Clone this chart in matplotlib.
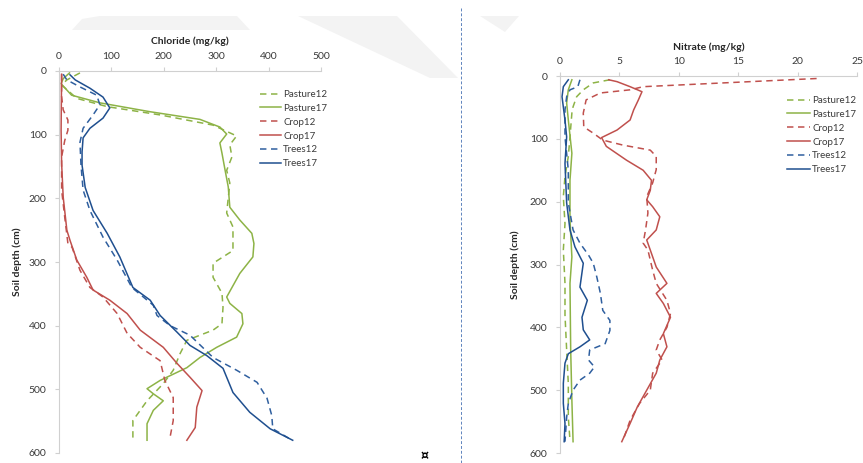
import numpy as np
import matplotlib
matplotlib.use('Agg')
import matplotlib.pyplot as plt
from matplotlib.patches import Polygon

plt.rcParams['font.family'] = ['Lato', 'DejaVu Sans']

# ---- chloride (mg/kg) profiles: value, depth (cm)
cl_pasture12 = [40, 15, 5, 34, 92, 193, 294, 339, 326, 330, 320, 326, 320, 332, 332, 332, 294, 294,
                311, 313, 311, 294, 244, 231, 218, 199, 168, 141, 141, 141]
cl_pasture12_d = [3, 14, 22, 43, 56, 69, 85, 102, 116, 135, 156, 176, 223, 245, 266, 282, 302, 324,
                  349, 371, 397, 407, 423, 444, 470, 491, 518, 549, 569, 577]
cl_pasture17 = [20, 8, 4, 24, 78, 174, 269, 307, 320, 307, 311, 317, 323, 326, 345, 368, 372, 370,
                345, 320, 326, 349, 351, 339, 301, 269, 244, 193, 168, 180, 199, 180, 168, 168]
cl_pasture17_d = [3, 12, 20, 38, 50, 64, 76, 88, 99, 113, 129, 156, 182, 214, 234, 255, 271, 292,
                  318, 355, 365, 381, 397, 418, 434, 450, 466, 486, 499, 507, 518, 533, 554, 580]
cl_crop12 = [5, 5, 8, 17, 17, 11, 5, 5, 11, 17, 25, 40, 59, 84, 111, 130, 155, 193, 202, 218, 218, 212]
cl_crop12_d = [5, 40, 61, 77, 93, 109, 135, 187, 230, 271, 277, 313, 340, 355, 381, 412, 434, 455,
               486, 513, 549, 575]
cl_crop17 = [5, 4, 5, 8, 15, 21, 34, 53, 65, 97, 130, 155, 199, 225, 250, 273, 263, 260, 244]
cl_crop17_d = [5, 93, 145, 198, 250, 266, 297, 324, 344, 360, 381, 407, 434, 459, 481, 502, 528, 560, 580]
cl_trees12 = [8, 15, 40, 72, 78, 65, 46, 40, 42, 46, 59, 84, 111, 139, 180, 187, 212, 250, 294, 339,
              378, 397, 406, 408, 441]
cl_trees12_d = [5, 14, 25, 38, 53, 69, 90, 112, 148, 187, 219, 261, 297, 340, 368, 384, 400, 415, 450,
                470, 489, 514, 541, 562, 578]
cl_trees17 = [21, 31, 59, 84, 97, 84, 59, 46, 44, 44, 50, 65, 92, 116, 141, 174, 193, 225, 250, 282,
              313, 332, 364, 403, 446]
cl_trees17_d = [6, 14, 27, 41, 58, 74, 90, 105, 127, 148, 183, 219, 255, 292, 340, 360, 384, 410, 431,
                447, 467, 505, 536, 562, 580]

# ---- nitrate (mg/kg) profiles
no_pasture12 = [4.2, 2.8, 1.96, 1.4, 1.1, 1.0, 0.84, 0.7, 0.42, 0.28, 0.42, 0.28, 0.42, 0.42, 0.56,
                0.7, 0.7, 0.84]
no_pasture12_d = [6, 11, 22, 33, 49, 59, 97, 128, 160, 192, 235, 277, 330, 380, 436, 490, 543, 580]
no_pasture17 = [1.0, 0.7, 0.56, 0.7, 1.0, 0.84, 0.84, 1.0, 0.84, 0.9, 1.0, 1.1]
no_pasture17_d = [6, 22, 43, 70, 123, 166, 229, 288, 330, 436, 516, 582]
no_crop12 = [21.6, 7.0, 5.9, 3.4, 2.2, 1.96, 2.0, 2.8, 3.6, 5.3, 7.6, 8.1, 8.1, 7.8, 7.3, 7.4, 7.2,
             7.0, 7.4, 7.8, 8.1, 9.0, 9.3, 9.0, 8.4, 8.1, 8.6, 7.8, 7.6, 6.7, 5.9, 5.3]
no_crop12_d = [4, 17, 22, 27, 38, 59, 81, 91, 102, 110, 118, 128, 149, 170, 192, 218, 245, 266, 277,
               309, 330, 357, 378, 400, 420, 436, 452, 473, 500, 521, 548, 580]
no_crop17 = [4.1, 4.8, 5.9, 6.9, 6.6, 6.2, 5.9, 4.8, 3.5, 3.9, 5.6, 7.0, 7.7, 7.6, 7.3, 7.8, 8.4, 8.1,
             7.3, 7.6, 8.1, 9.0, 8.1, 8.7, 9.3, 8.7, 9.0, 8.4, 8.1, 7.3, 6.5, 5.9, 5.2]
no_crop17_d = [6, 9, 17, 25, 38, 54, 70, 86, 98, 112, 134, 150, 166, 182, 197, 208, 224, 245, 261,
               277, 304, 330, 346, 362, 384, 410, 431, 452, 473, 500, 527, 553, 582]
no_trees12 = [1.68, 1.5, 0.84, 0.56, 0.42, 0.42, 0.7, 0.7, 1.1, 1.68, 2.4, 2.8, 3.1, 3.4, 3.6, 4.2,
              4.2, 3.8, 2.5, 2.4, 2.9, 2.5, 1.68, 1.1, 0.7, 0.56, 0.42]
no_trees12_d = [6, 17, 22, 33, 54, 97, 150, 202, 245, 266, 285, 298, 320, 346, 373, 389, 405, 426,
                436, 452, 463, 473, 484, 500, 521, 543, 582]
no_trees17 = [0.7, 0.28, 0.17, 0.42, 0.56, 0.42, 0.56, 0.84, 1.26, 1.96, 1.68, 2.3, 1.85, 1.96, 2.5,
              1.68, 0.7, 0.42, 0.28, 0.28, 0.42, 0.35]
no_trees17_d = [6, 17, 33, 70, 97, 139, 202, 245, 272, 298, 336, 357, 384, 404, 420, 431, 442, 457,
                489, 521, 553, 582]

labels = ['Pasture12', 'Pasture17', 'Crop12', 'Crop17', 'Trees12', 'Trees17']
colors = ['#8db346', '#8db346', '#c0504d', '#c0504d', '#2f5f9f', '#1f4f8f']
dashed = [True, False, True, False, True, False]

W, H = 863, 463
fig = plt.figure(figsize=(W / 100, H / 100), dpi=100)

# faint watermark shapes behind the charts
grey = '#f3f3f3'
fig.patches.append(Polygon([(72 / W, 1 - 30 / H), (82 / W, 1 - 19 / H), (100 / W, 1 - 16 / H),
                            (237 / W, 1 - 16 / H), (250 / W, 1 - 30 / H)],
                           closed=True, transform=fig.transFigure, fc=grey, ec='none', zorder=0))
fig.patches.append(Polygon([(298 / W, 1 - 16 / H), (397 / W, 1 - 16 / H), (458 / W, 1 - 78 / H),
                            (430 / W, 1 - 78 / H)],
                           closed=True, transform=fig.transFigure, fc=grey, ec='none', zorder=0))
fig.patches.append(Polygon([(480 / W, 1 - 16 / H), (519 / W, 1 - 16 / H), (505 / W, 1 - 32 / H)],
                           closed=True, transform=fig.transFigure, fc=grey, ec='none', zorder=0))

# divider between the two charts
fig.add_artist(plt.Line2D([461 / W, 461 / W], [0, 1 - 8 / H], transform=fig.transFigure,
                          color='#5f84bd', lw=0.7, ls=(0, (3, 2))))
fig.text(425 / W, 1 - 456 / H, '\u00a4', fontsize=9, ha='center', va='center',
         family='DejaVu Sans', fontweight='bold')


def style_axis(ax, xmax, xstep, title, title_pad):
    ax.set_xlim(0, xmax)
    ax.set_ylim(600, 0)
    ax.set_xticks(np.arange(0, xmax + 0.1, xstep))
    ax.set_yticks(np.arange(0, 601, 100))
    ax.xaxis.tick_top()
    ax.xaxis.set_label_position('top')
    ax.patch.set_alpha(0)
    for s in ['right', 'bottom']:
        ax.spines[s].set_visible(False)
    for s in ['top', 'left']:
        ax.spines[s].set_color('#d0d0d0')
        ax.spines[s].set_linewidth(0.8)
    ax.tick_params(colors='#d0d0d0', labelcolor='#3a3a3a', labelsize=7.5, length=3, width=0.8)
    ax.tick_params(axis='y', pad=6)
    ax.tick_params(axis='x', pad=4)
    ax.set_xlabel(title, fontsize=7.5, fontweight='bold', color='#262626', labelpad=title_pad)
    ax.set_ylabel('Soil depth (cm)', fontsize=7.5, fontweight='bold', color='#262626')


ax1 = fig.add_axes([59 / W, 1 - 453 / H, 262 / W, 382 / H])
series1 = [(cl_pasture12, cl_pasture12_d), (cl_pasture17, cl_pasture17_d), (cl_crop12, cl_crop12_d),
           (cl_crop17, cl_crop17_d), (cl_trees12, cl_trees12_d), (cl_trees17, cl_trees17_d)]
for (v, d), lab, c, dsh in zip(series1, labels, colors, dashed):
    ax1.plot(v, d, color=c, lw=1.1, ls=(0, (4.2, 3.0)) if dsh else '-', label=lab,
             solid_joinstyle='round')
style_axis(ax1, 500, 100, 'Chloride (mg/kg)', 6)
ax1.yaxis.set_label_coords(-0.14, 0.5)
ax1.legend(loc='upper left', bbox_to_anchor=(260 / W, 1 - 90 / H), bbox_transform=fig.transFigure,
           frameon=False, fontsize=7, handlelength=2.2, handletextpad=0.2, labelspacing=0.5,
           borderaxespad=0, borderpad=0, labelcolor='#3a3a3a')

ax2 = fig.add_axes([560 / W, 1 - 453 / H, 297 / W, 377 / H])
series2 = [(no_pasture12, no_pasture12_d), (no_pasture17, no_pasture17_d), (no_crop12, no_crop12_d),
           (no_crop17, no_crop17_d), (no_trees12, no_trees12_d), (no_trees17, no_trees17_d)]
for (v, d), lab, c, dsh in zip(series2, labels, colors, dashed):
    ax2.plot(v, d, color=c, lw=1.1, ls=(0, (4.2, 3.0)) if dsh else '-', label=lab,
             solid_joinstyle='round')
style_axis(ax2, 25, 5, 'Nitrate (mg/kg)', 5)
ax2.yaxis.set_label_coords(-0.136, 0.5)
ax2.legend(loc='upper left', bbox_to_anchor=(787 / W, 1 - 96 / H), bbox_transform=fig.transFigure,
           frameon=False, fontsize=7, handlelength=2.4, handletextpad=0.2, labelspacing=0.5,
           borderaxespad=0, borderpad=0, labelcolor='#3a3a3a')

fig.savefig('out.png', dpi=100)
